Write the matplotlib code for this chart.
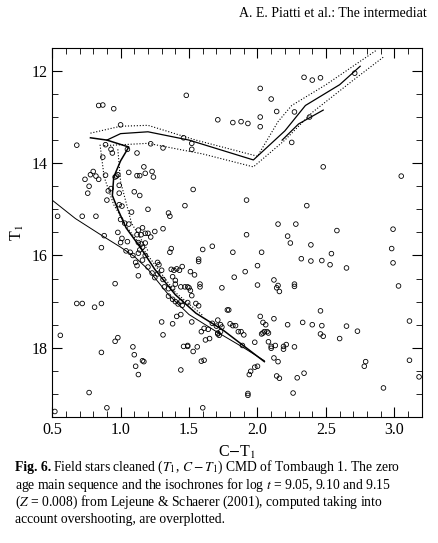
import numpy as np
import matplotlib.pyplot as plt
from matplotlib.ticker import MultipleLocator

plt.rcParams['font.family'] = ['Liberation Serif', 'DejaVu Serif']
plt.rcParams['mathtext.fontset'] = 'stix'

stars = [
(1.48,12.53),(2.02,12.38),(2.46,12.15),(2.34,12.14),(2.71,12.05),(2.40,12.20),(2.10,12.61),(2.14,12.88),
(0.84,12.75),(0.87,12.74),(0.95,12.82),(1.71,13.06),(1.82,13.12),(1.88,13.10),(1.93,13.14),(2.02,13.00),
(2.02,13.21),(2.27,12.89),(2.38,13.00),(1.00,13.17),(1.46,13.45),(2.25,13.55),(1.52,13.57),(1.52,13.70),
(1.22,13.58),(1.31,13.67),(0.68,13.61),(0.89,13.60),(0.93,13.70),(0.94,13.78),(0.87,13.87),(1.05,13.70),
(1.12,13.78),(2.48,14.08),(3.05,14.28),(0.98,14.25),(0.80,14.18),(0.82,14.28),(0.78,14.25),(0.74,14.35),
(0.77,14.50),(0.76,14.65),(0.84,14.35),(0.89,14.26),(0.96,14.30),(0.97,14.28),(1.17,14.08),(1.18,14.22),
(1.12,14.27),(1.14,14.27),(1.23,14.18),(1.24,14.30),(1.06,14.20),(0.99,14.48),(0.99,14.65),(0.93,14.55),
(0.91,14.60),(0.90,14.80),(0.99,14.90),(1.01,14.93),(1.53,14.57),(1.47,14.92),(1.92,14.80),(2.36,14.92),
(1.10,14.62),(1.14,14.70),(1.20,15.00),(1.08,15.06),(1.35,15.08),(1.36,15.15),(0.82,15.15),(0.72,15.15),
(0.54,15.15),(1.31,15.42),(1.00,15.22),(1.03,15.30),(1.06,15.32),(1.13,15.45),(1.16,15.40),(1.15,15.55),
(1.12,15.55),(1.18,15.52),(1.20,15.52),(1.25,15.48),(1.22,15.60),(0.88,15.57),(0.98,15.50),(1.01,15.63),
(1.00,15.72),(0.86,15.83),(1.05,15.70),(1.04,15.90),(1.07,15.93),(1.13,15.72),(1.15,15.75),(1.16,15.82),
(1.14,15.88),(1.18,15.73),(1.13,15.95),(1.09,16.00),(1.11,16.15),(1.12,16.22),(1.16,16.10),(1.20,16.25),
(1.18,16.00),(1.27,16.15),(1.28,16.20),(1.37,15.85),(1.36,15.93),(1.60,15.87),(1.67,15.80),(1.92,15.55),
(1.82,15.93),(2.03,15.93),(2.15,15.32),(2.22,15.58),(2.24,15.73),(2.28,15.32),(2.58,15.46),(2.39,15.77),
(2.32,16.07),(2.54,15.96),(2.99,15.43),(2.98,15.85),(2.99,16.16),(2.65,16.27),(2.53,16.20),(2.47,16.11),
(2.39,16.12),(2.00,16.22),(1.91,16.35),(1.51,16.35),(1.54,16.42),(1.57,16.08),(1.57,16.13),(1.45,16.24),
(1.41,16.29),(1.39,16.32),(1.37,16.30),(1.43,16.32),(1.38,16.46),(1.40,16.54),(1.30,16.32),(1.13,16.44),
(1.27,16.40),(1.25,16.48),(1.23,16.38),(1.83,16.47),(1.31,16.52),(1.32,16.68),(1.35,16.72),(1.38,16.71),
(1.40,16.62),(1.44,16.68),(1.47,16.68),(1.49,16.68),(1.50,16.70),(1.51,16.76),(1.52,16.87),(1.58,16.62),
(1.58,16.68),(1.74,16.70),(2.00,16.64),(2.12,16.53),(2.15,16.65),(2.16,16.78),(2.14,16.70),(2.27,16.62),
(2.27,16.67),(0.96,16.61),(3.03,16.66),(0.68,17.04),(0.72,17.04),(0.81,17.12),(0.86,17.04),(1.35,16.88),
(1.38,16.95),(1.40,17.00),(1.42,17.05),(1.44,17.00),(1.45,17.08),(1.49,17.02),(1.55,17.04),(1.57,17.09),
(1.44,17.28),(1.41,17.32),(1.38,17.48),(1.30,17.44),(1.31,17.72),(1.52,17.44),(1.59,17.65),(1.61,17.58),
(1.64,17.60),(1.67,17.47),(1.70,17.53),(1.71,17.40),(1.73,17.50),(1.74,17.55),(1.78,17.18),(1.79,17.18),
(1.80,17.48),(1.82,17.52),(1.84,17.52),(1.86,17.65),(1.88,17.65),(1.90,17.72),(1.72,17.73),(1.71,17.70),
(1.73,17.65),(1.65,17.80),(1.62,17.83),(1.56,17.98),(1.53,18.08),(1.46,17.97),(1.49,17.97),(1.61,18.27),
(1.59,18.29),(1.44,18.48),(1.16,18.28),(1.17,18.30),(1.13,18.58),(1.09,17.98),(1.10,18.15),(1.11,18.40),
(0.96,17.86),(0.98,17.78),(0.86,18.10),(0.56,17.73),(1.89,17.95),(1.95,18.51),(1.98,18.42),(2.00,18.40),
(1.98,17.88),(2.03,17.70),(2.04,17.68),(2.05,17.65),(2.07,17.65),(2.08,17.68),(2.02,17.32),(2.04,17.45),
(2.06,17.50),(2.12,17.37),(2.22,17.50),(2.08,17.87),(2.10,17.97),(2.13,17.95),(2.10,18.01),(2.12,18.22),
(2.15,18.30),(2.14,18.61),(2.16,18.66),(2.19,17.97),(2.19,18.03),(2.21,17.93),(2.27,17.98),(2.29,18.65),
(2.34,18.55),(2.26,18.98),(2.33,17.45),(2.40,17.50),(2.46,17.20),(2.47,17.52),(2.46,17.70),(2.48,17.75),
(2.60,17.80),(2.65,17.53),(2.73,17.64),(2.78,18.40),(2.79,18.30),(2.92,18.87),(3.11,17.42),(3.11,18.27),
(3.18,18.63),(1.94,18.58),(1.93,18.99),(1.93,19.03),(0.77,18.97),(0.90,19.30),(0.52,19.38),(1.60,19.30),
(1.49,17.95),(1.71,17.68),
]
star_c = [s[0] for s in stars]
star_t = [s[1] for s in stars]

# ZAMS
zams_c = [0.50, 0.67, 0.87, 1.00, 1.10, 1.20, 1.35, 1.50, 1.70, 1.90, 2.05]
zams_t = [14.80, 15.20, 15.58, 15.82, 16.02, 16.30, 16.85, 17.28, 17.65, 18.00, 18.28]
# isochrone (solid)
iso_c = [0.78, 0.90, 1.06, 1.00, 0.95, 0.94, 0.98, 1.04, 1.15, 1.25, 1.40, 1.55, 1.75, 2.05]
iso_t = [13.45, 13.50, 13.65, 13.95, 14.30, 14.70, 15.00, 15.40, 15.85, 16.30, 16.85, 17.25, 17.62, 18.30]
rgb_c = [0.90, 1.00, 1.20, 1.50, 1.97, 2.20, 2.35, 2.60, 2.75]
rgb_t = [13.50, 13.36, 13.32, 13.50, 13.93, 13.30, 12.75, 12.30, 11.90]
rgb2_c = [2.18, 2.30, 2.48]
rgb2_t = [13.50, 13.15, 12.85]
# isochrones (dotted)
up_c = [0.78, 1.00, 1.20, 1.55, 2.00, 2.15, 2.25, 2.50, 2.87]
up_t = [13.35, 13.20, 13.18, 13.50, 13.85, 13.10, 12.75, 12.30, 11.55]
lo_c = [0.88, 1.20, 1.60, 1.97, 2.20, 2.40, 2.70, 2.92]
lo_t = [13.62, 13.57, 13.80, 14.08, 13.50, 12.90, 12.20, 11.70]
ms1_c = [0.85, 0.88, 0.95, 1.05, 1.20, 1.40, 1.60]
ms1_t = [13.60, 14.30, 14.90, 15.40, 16.00, 16.80, 17.30]
ms2_c = [0.98, 1.00, 1.08, 1.20]
ms2_t = [13.70, 14.40, 15.30, 15.90]

fig = plt.figure(figsize=(4.38, 5.43), dpi=100)
ax = fig.add_axes([0.119, 0.232, 0.844, 0.680])
ax.scatter(star_c, star_t, s=11, facecolors='none', edgecolors='black', linewidths=0.6)
ax.plot(zams_c, zams_t, color='black', lw=0.7)
ax.plot(iso_c, iso_t, color='black', lw=1.1)
ax.plot(rgb_c, rgb_t, color='black', lw=0.9)
ax.plot(rgb2_c, rgb2_t, color='black', lw=0.9)
for c, t in [(up_c, up_t), (lo_c, lo_t), (ms1_c, ms1_t), (ms2_c, ms2_t)]:
    ax.plot(c, t, color='black', lw=0.8, ls=':')

ax.set_xlim(0.5, 3.2)
ax.set_ylim(19.5, 11.5)
ax.xaxis.set_major_locator(MultipleLocator(0.5))
ax.xaxis.set_minor_locator(MultipleLocator(0.1))
ax.yaxis.set_major_locator(MultipleLocator(2))
ax.yaxis.set_minor_locator(MultipleLocator(0.5))
ax.tick_params(which='both', direction='in', top=True, right=True, labelsize=11.5)
ax.tick_params(which='major', length=7)
ax.tick_params(which='minor', length=4)
ax.set_xlabel(r'C$-$T$_1$', fontsize=11.5)
ax.set_ylabel(r'T$_1$', fontsize=11.5)

fig.text(0.975, 0.968, 'A. E. Piatti et al.: The intermediat', ha='right', fontsize=10)
fs = 9.8
fig.text(0.035, 0.132, 'Fig. 6.', fontsize=fs, weight='bold')
fig.text(0.122, 0.132, r'Field stars cleaned ($T_1$, $C-T_1$) CMD of Tombaugh 1. The zero', fontsize=fs)
fig.text(0.035, 0.100, r'age main sequence and the isochrones for log $t$ = 9.05, 9.10 and 9.15', fontsize=fs)
fig.text(0.035, 0.068, r'($Z$ = 0.008) from Lejeune & Schaerer (2001), computed taking into', fontsize=fs)
fig.text(0.035, 0.036, 'account overshooting, are overplotted.', fontsize=fs)

fig.savefig('out.png', dpi=100)
